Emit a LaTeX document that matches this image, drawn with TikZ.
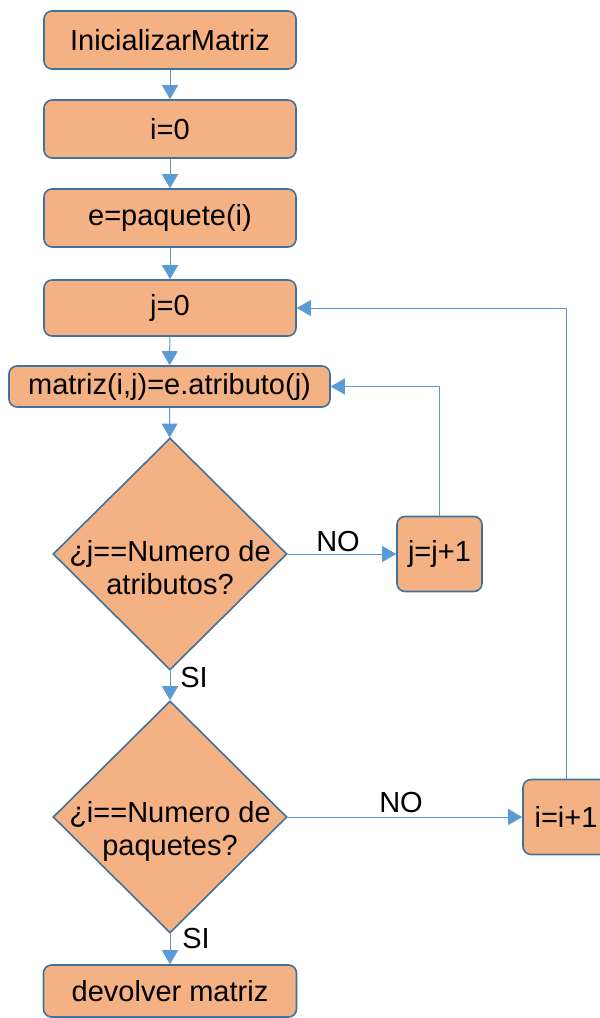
\documentclass[tikz,border=0pt]{standalone}
\usepackage{fontspec}
\setmainfont{Liberation Sans}
\usetikzlibrary{shapes.geometric,arrows.meta}
\definecolor{boxfill}{RGB}{244,177,131}
\definecolor{boxline}{RGB}{65,113,156}
\definecolor{flow}{RGB}{91,155,213}

\begin{document}
\begin{tikzpicture}
  [x=1pt, y=-1pt,
   every node/.style={font=\fontsize{29}{33}\selectfont},
   proc/.style={draw=boxline, fill=boxfill, line width=1.6pt, rounded corners=8pt, inner sep=0pt},
   test/.style={draw=boxline, fill=boxfill, line width=1.6pt, diamond, inner sep=0pt,
                minimum width=234pt, minimum height=232pt},
   flowline/.style={draw=flow, line width=1pt, -{Triangle[width=16pt,length=14pt]}}]
  \useasboundingbox (0,0) rectangle (600,1018);

  \node[proc, minimum width=252pt, minimum height=58pt] (init) at (170, 40) {InicializarMatriz};
  \node[proc, minimum width=252pt, minimum height=58pt] (izero) at (170, 129) {i=0};
  \node[proc, minimum width=252pt, minimum height=58pt] (epaq) at (170, 218) {e=paquete(i)};
  \node[proc, minimum width=252pt, minimum height=56pt] (jzero) at (170, 308) {j=0};
  \node[proc, minimum width=321pt, minimum height=41pt] (mat) at (169.5, 386.5) {matriz(i,j)=e.atributo(j)};
  \node[test, label={[align=center, yshift=-14pt]center:¿j==Numero de\\atributos?}] (qj) at (170, 554) {};
  \node[proc, minimum width=85pt, minimum height=75pt] (jinc) at (439.5, 554) {j=j+1};
  \node[test, label={[align=center, yshift=-14pt]center:¿i==Numero de\\paquetes?}] (qi) at (170, 817) {};
  \node[proc, minimum width=86pt, minimum height=75pt] (iinc) at (566, 817) {i=i+1};
  \node[proc, minimum width=253pt, minimum height=52pt] (fin) at (170, 991) {devolver matriz};

  \node (no1) at (338, 542) {NO};
  \node (no2) at (401, 803) {NO};
  \node (si1) at (194, 678) {SI};
  \node (si2) at (196, 939) {SI};

  \foreach \from/\to in {init/izero,izero/epaq,epaq/jzero,jzero/mat,mat/qj,qj/jinc,qj/qi,qi/iinc,qi/fin}
  \draw[flowline] (\from) -- (\to);
  \draw[flowline] (jinc.north) |- (mat.east);
  \draw[flowline] (iinc.north) |- (jzero.east);
\end{tikzpicture}
\end{document}
